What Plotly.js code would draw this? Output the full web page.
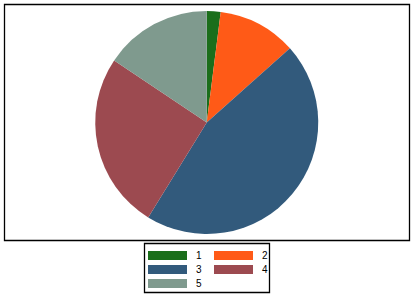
<!DOCTYPE html>
<html>
<head>
<meta charset="utf-8">
<script src="https://cdn.plot.ly/plotly-3.0.1.min.js"></script>
<style>
  html, body { margin: 0; padding: 0; background: #fff; }
  #chart { width: 415px; height: 301px; }
</style>
</head>
<body>
<div id="chart"></div>
<script>
// Slice categories, shares and colours
const categories = ["1", "2", "3", "4", "5"];
const shares = [2.0, 11.4, 45.4, 25.6, 15.6];
const sliceColors = ["#1b6e1b", "#ff5a17", "#325a7c", "#9c4a50", "#7f9a8e"];

const W = 415, H = 301;
const px = x => x / W;          // pixel -> paper x
const py = y => 1 - y / H;      // pixel -> paper y (from top)

const trace = {
  type: "pie",
  labels: categories,
  values: shares,
  sort: false,
  direction: "clockwise",
  rotation: 0,
  textinfo: "none",
  hoverinfo: "label+percent",
  marker: { colors: sliceColors, line: { width: 0 } },
  domain: { x: [px(95), px(318.5)], y: [py(234), py(11)] },
  showlegend: false
};

// Outer frame around the plot region and the legend box
const shapes = [
  { type: "rect", xref: "paper", yref: "paper",
    x0: px(4.5), x1: px(409.5), y0: py(240.5), y1: py(4.5),
    line: { color: "#000", width: 1.3 }, fillcolor: "rgba(0,0,0,0)" },
  { type: "rect", xref: "paper", yref: "paper",
    x0: px(144.5), x1: px(269.5), y0: py(292.5), y1: py(243.5),
    line: { color: "#000", width: 1.3 }, fillcolor: "rgba(0,0,0,0)" }
];
const annotations = [];

// Legend entries: two columns, wide swatches
const colX = [148, 214];
const rowY = [251, 265, 279];
categories.forEach((cat, i) => {
  const col = i % 2, row = Math.floor(i / 2);
  const x0 = colX[col], y0 = rowY[row];
  shapes.push({ type: "rect", xref: "paper", yref: "paper",
    x0: px(x0), x1: px(x0 + 39), y0: py(y0 + 9), y1: py(y0),
    line: { width: 0 }, fillcolor: sliceColors[i] });
  annotations.push({ xref: "paper", yref: "paper",
    x: px(x0 + 46), y: py(y0 + 4.5), xanchor: "left", yanchor: "middle",
    text: cat, showarrow: false,
    font: { family: "Liberation Sans, Arial, sans-serif", size: 10, color: "#000" } });
});

const layout = {
  width: W, height: H,
  margin: { l: 0, r: 0, t: 0, b: 0 },
  paper_bgcolor: "#fff",
  plot_bgcolor: "#fff",
  shapes: shapes,
  annotations: annotations,
  showlegend: false
};

Plotly.newPlot("chart", [trace], layout, { displayModeBar: false, staticPlot: true });
</script>
</body>
</html>
